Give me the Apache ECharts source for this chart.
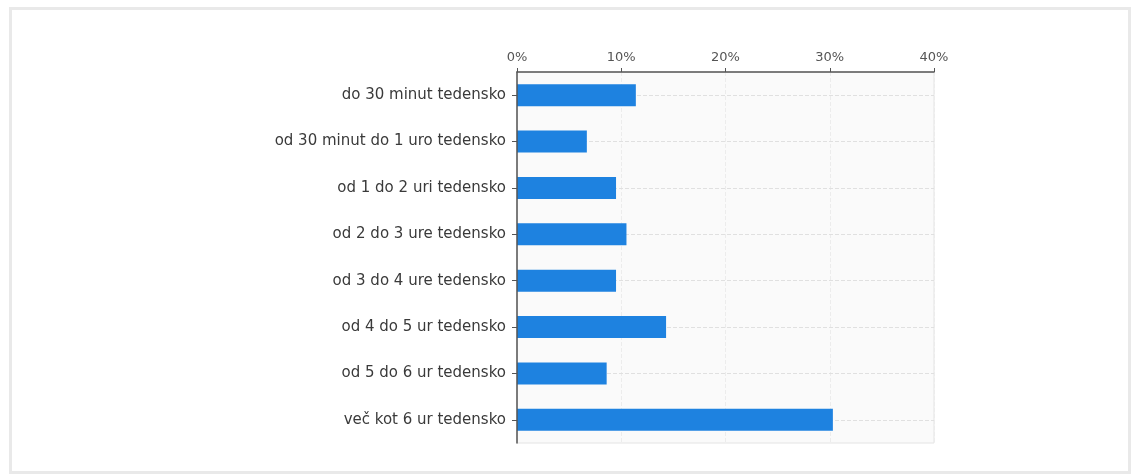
<!DOCTYPE html>
<html>
<head>
<meta charset="utf-8">
<script src="https://cdn.jsdelivr.net/npm/echarts@6/dist/echarts.min.js"></script>
<style>
html,body{margin:0;padding:0;background:#fff;}
#c{width:1135px;height:476px;}
</style>
</head>
<body>
<div id="c"></div>
<script>
const categories = [
  'do 30 minut tedensko',
  'od 30 minut do 1 uro tedensko',
  'od 1 do 2 uri tedensko',
  'od 2 do 3 ure tedensko',
  'od 3 do 4 ure tedensko',
  'od 4 do 5 ur tedensko',
  'od 5 do 6 ur tedensko',
  'več kot 6 ur tedensko'
];
const values = [11.4, 6.7, 9.5, 10.5, 9.5, 14.3, 8.6, 30.3];
const xTicks = [0, 10, 20, 30, 40];

const chart = echarts.init(document.getElementById('c'), null, {renderer: 'canvas'});
const font = 'DejaVu Sans';
chart.setOption({
  animation: false,
  graphic: [{
    type: 'rect', left: 8, top: 6, silent: true,
    shape: {width: 1119, height: 464},
    style: {fill: 'none', stroke: '#e9e9e9', lineWidth: 3}
  }],
  grid: {
    left: 517, right: 201, top: 72, bottom: 33,
    show: true, backgroundColor: '#fafafa', borderColor: '#e4e4e4', borderWidth: 1
  },
  xAxis: {
    type: 'value', position: 'top',
    min: xTicks[0], max: xTicks[xTicks.length - 1], interval: 10,
    zlevel: 0, z: 5,
    axisLine: {show: true, lineStyle: {color: '#555', width: 1.5}},
    axisTick: {show: true, length: 4, inside: false, lineStyle: {color: '#555'}},
    axisLabel: {color: '#555', fontFamily: font, fontSize: 13, formatter: '{value}%', margin: 8},
    splitLine: {show: true, lineStyle: {color: '#ececec', type: 'dashed'}}
  },
  yAxis: {
    type: 'category', inverse: true, data: categories,
    zlevel: 1, z: 5,
    axisLine: {show: true, lineStyle: {color: '#555', width: 1.5}},
    axisTick: {show: true, alignWithLabel: true, length: 5, lineStyle: {color: '#555'}},
    axisLabel: {color: '#3a3a3a', fontFamily: font, fontSize: 15, margin: 11},
    splitLine: {show: false}
  },
  series: [
    {
      type: 'line', data: [], zlevel: 0, z: 1, silent: true,
      markLine: {
        silent: true, symbol: 'none', label: {show: false},
        lineStyle: {color: '#e0e0e0', type: 'dashed', width: 1},
        data: categories.map(c => ({yAxis: c}))
      }
    },
    {
      type: 'bar', data: values, barWidth: 22, zlevel: 1, z: 3,
      itemStyle: {color: '#1e82e0'}
    }
  ]
});
</script>
</body>
</html>
